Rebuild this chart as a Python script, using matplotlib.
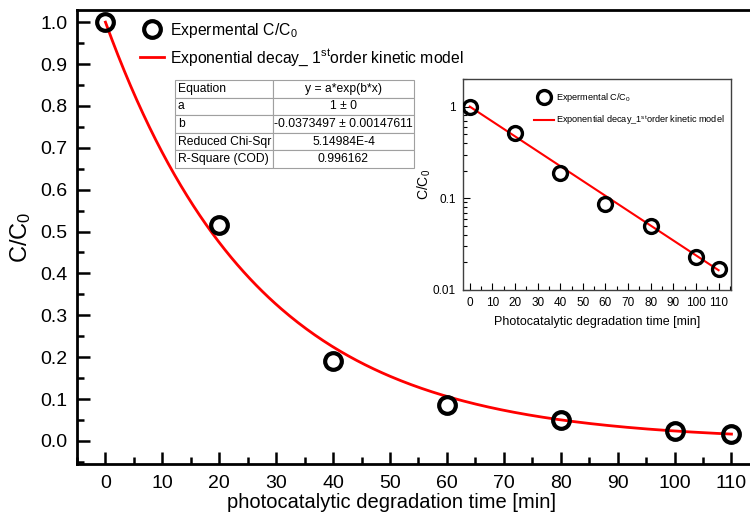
import numpy as np
import matplotlib.pyplot as plt
from matplotlib.ticker import MultipleLocator, LogLocator, FixedLocator, NullFormatter, FuncFormatter

plt.rcParams['font.family'] = ['Liberation Sans', 'DejaVu Sans']
plt.rcParams['mathtext.fontset'] = 'custom'
plt.rcParams['mathtext.rm'] = 'Liberation Sans'
plt.rcParams['mathtext.it'] = 'Liberation Sans'

# Measured concentration ratio vs. irradiation time
time_min = [0, 20, 40, 60, 80, 100, 110]
c_ratio = [1.0, 0.515, 0.19, 0.087, 0.05, 0.023, 0.017]

# First-order fit parameters
fit_a = 1.0
fit_b = -0.0373497

table_rows = [
    ['Equation', 'y = a*exp(b*x)'],
    ['a', '1 ± 0'],
    ['b', '-0.0373497 ± 0.00147611'],
    ['Reduced Chi-Sqr', '5.14984E-4'],
    ['R-Square (COD)', '0.996162'],
]

t_fit = np.linspace(0, 110, 300)
c_fit = fit_a * np.exp(fit_b * t_fit)

fig = plt.figure(figsize=(7.5, 5.18), dpi=100)
ax = fig.add_axes([77 / 750, 54 / 518, 700 / 750, 454 / 518])

ax.plot(time_min, c_ratio, 'o', ms=12, mfc='none', mec='black', mew=3,
        label='Expermental C/C$_0$', zorder=3)
ax.plot(t_fit, c_fit, color='red', lw=2,
        label='Exponential decay_ 1$^{st}$order kinetic model')

ax.set_xlim(-5, 118)
ax.set_ylim(-0.055, 1.029)
ax.xaxis.set_major_locator(MultipleLocator(10))
ax.xaxis.set_minor_locator(MultipleLocator(5))
ax.yaxis.set_major_locator(MultipleLocator(0.1))
ax.yaxis.set_minor_locator(MultipleLocator(0.05))
ax.yaxis.set_major_formatter(FuncFormatter(lambda v, p: f'{v:.1f}'))
ax.tick_params(which='both', direction='in', width=1.8)
ax.tick_params(which='major', length=9)
ax.tick_params(which='minor', length=5)
ax.tick_params(axis='x', labelsize=14, pad=8)
ax.tick_params(axis='y', labelsize=14, pad=7)
for s in ax.spines.values():
    s.set_linewidth(2)
ax.set_xlabel('photocatalytic degradation time [min]', fontsize=14.5)
ax.xaxis.set_label_coords(0.449, -0.064)
ax.set_ylabel('C/C$_0$', fontsize=17, labelpad=5)

ax.legend(loc='upper left', bbox_to_anchor=(0.075, 1.0), frameon=False,
          fontsize=11.3, handlelength=1.5, handletextpad=0.4,
          labelspacing=0.5, borderaxespad=0.3)

# Fit results table
tbl = ax.table(cellText=table_rows, cellLoc='center', colWidths=[98 / 700, 141 / 700],
               bbox=[(175 - 77) / 700, (464 - 168) / 454, 239 / 700, 88 / 454])
tbl.auto_set_font_size(False)
tbl.set_fontsize(8.7)
for (r, c), cell in tbl.get_celld().items():
    cell.set_edgecolor('#a0a0a0')
    cell.set_linewidth(0.8)
    if c == 0:
        cell._loc = 'left'
        cell.get_text().set_horizontalalignment('left')
        cell.PAD = 0.03

# Semi-log inset
ins = fig.add_axes([463 / 750, (518 - 290) / 518, 268 / 750, 211 / 518])
ins.plot(time_min, c_ratio, 'o', ms=10, mfc='none', mec='black', mew=2.4,
         label='Expermental C/C$_0$', zorder=3)
ins.plot(t_fit, c_fit, color='red', lw=1.5,
         label='Exponential decay_1$^{st}$order kinetic model')
ins.set_yscale('log')
ins.set_xlim(-3, 115.5)
ins.set_ylim(0.01, 2.0)
ins.xaxis.set_major_locator(MultipleLocator(10))
ins.xaxis.set_minor_locator(MultipleLocator(5))
ins.yaxis.set_major_locator(FixedLocator([0.01, 0.1, 1]))
ins.yaxis.set_major_formatter(FuncFormatter(lambda v, p: f'{v:g}'))
ins.yaxis.set_minor_locator(LogLocator(base=10, subs=np.arange(2, 10)))
ins.yaxis.set_minor_formatter(NullFormatter())
ins.tick_params(which='both', direction='in', width=0.8)
ins.tick_params(which='major', length=5)
ins.tick_params(which='minor', length=3)
ins.tick_params(axis='both', labelsize=8.5, pad=5)
for s in ins.spines.values():
    s.set_linewidth(1.0)
    s.set_color('#404040')
ins.set_xlabel('Photocatalytic degradation time [min]', fontsize=9, labelpad=5)
ins.set_ylabel('C/C$_0$', fontsize=10, labelpad=0)
ins.legend(loc='upper left', bbox_to_anchor=(0.235, 0.98), frameon=False,
           fontsize=6.6, handlelength=2.2, handletextpad=0.2, labelspacing=1.0)

fig.savefig('out.png', dpi=100)
